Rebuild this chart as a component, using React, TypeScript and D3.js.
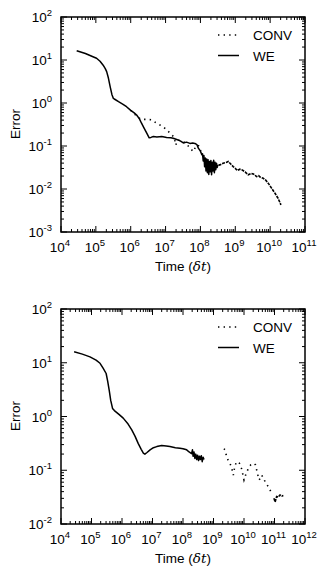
import React from "react";
import * as d3 from "d3";

// Data stored as [log10(time), log10(error)] pairs.
const topWE: [number, number][] = [
  [4.45, 1.216], [4.7, 1.15], [4.9, 1.08], [5.02, 1.04], [5.12, 0.97], [5.21, 0.88],
  [5.27, 0.8], [5.31, 0.73], [5.36, 0.58], [5.41, 0.38], [5.46, 0.2], [5.5, 0.11],
  [5.53, 0.093], [5.65, 0.03], [5.78, -0.03], [5.88, -0.086], [6.0, -0.17], [6.1, -0.23],
  [6.17, -0.28], [6.25, -0.37], [6.31, -0.47], [6.38, -0.58], [6.46, -0.7], [6.53, -0.81],
  [6.58, -0.8], [6.65, -0.78], [6.75, -0.79], [6.89, -0.78], [7.03, -0.8], [7.15, -0.81],
  [7.22, -0.82], [7.32, -0.85], [7.42, -0.88], [7.51, -0.93], [7.6, -0.91], [7.7, -0.94],
  [7.78, -0.93], [7.84, -0.94], [7.9, -0.97], [7.94, -1.05], [8.0, -1.12], [8.04, -1.2],
  [8.06, -1.18], [8.08, -1.35], [8.1, -1.22], [8.12, -1.48], [8.14, -1.28], [8.16, -1.58],
  [8.18, -1.3], [8.2, -1.62], [8.22, -1.32], [8.24, -1.66], [8.26, -1.36], [8.28, -1.6],
  [8.3, -1.34], [8.32, -1.67], [8.34, -1.38], [8.36, -1.58], [8.38, -1.33], [8.4, -1.62],
  [8.42, -1.38], [8.44, -1.55], [8.46, -1.4], [8.48, -1.5], [8.5, -1.44],
];

const topCONV: [number, number][] = [
  [6.0, -0.17], [6.1, -0.25], [6.2, -0.33], [6.3, -0.38], [6.45, -0.38], [6.6, -0.39],
  [6.74, -0.47], [6.93, -0.55], [7.13, -0.7], [7.25, -0.8], [7.29, -0.98], [7.35, -0.86],
  [7.45, -0.88], [7.55, -0.92], [7.65, -1.0], [7.72, -1.07], [7.8, -1.13], [7.88, -0.98],
  [7.95, -1.0], [8.05, -1.2], [8.15, -1.4], [8.3, -1.5], [8.45, -1.45], [8.56, -1.44],
  [8.65, -1.4], [8.75, -1.38], [8.8, -1.36], [8.87, -1.42], [8.94, -1.48], [9.0, -1.52],
  [9.06, -1.57], [9.13, -1.54], [9.2, -1.56], [9.28, -1.6], [9.37, -1.67], [9.45, -1.64],
  [9.52, -1.65], [9.61, -1.71], [9.67, -1.69], [9.71, -1.72], [9.8, -1.75], [9.88, -1.8],
  [9.95, -1.87], [10.04, -1.98], [10.14, -2.1], [10.23, -2.22], [10.31, -2.37],
];

const botWE: [number, number][] = [
  [4.43, 1.206], [4.7, 1.16], [4.95, 1.11], [5.15, 1.05], [5.28, 0.99], [5.38, 0.9],
  [5.48, 0.8], [5.53, 0.66], [5.58, 0.49], [5.63, 0.3], [5.69, 0.15], [5.75, 0.11],
  [5.9, 0.04], [6.04, -0.03], [6.2, -0.14], [6.32, -0.25], [6.43, -0.37], [6.53, -0.5],
  [6.63, -0.61], [6.7, -0.68], [6.75, -0.7], [6.82, -0.67], [6.92, -0.62], [7.03, -0.58],
  [7.14, -0.56], [7.3, -0.54], [7.45, -0.55], [7.57, -0.56], [7.75, -0.58], [7.9, -0.59],
  [8.0, -0.6], [8.12, -0.62], [8.2, -0.66], [8.28, -0.69], [8.31, -0.62], [8.33, -0.74],
  [8.36, -0.66], [8.39, -0.78], [8.42, -0.7], [8.45, -0.8], [8.48, -0.72], [8.51, -0.82],
  [8.54, -0.74], [8.57, -0.8], [8.6, -0.73], [8.63, -0.84], [8.66, -0.76], [8.69, -0.8],
];

const botCONV: [number, number][] = [
  [9.34, -0.6], [9.38, -0.62], [9.43, -0.75], [9.48, -0.81], [9.54, -0.87], [9.6, -0.97],
  [9.65, -1.09], [9.7, -0.92], [9.76, -0.84], [9.85, -0.87], [9.92, -0.97], [10.0, -1.18],
  [10.07, -1.06], [10.14, -0.97], [10.22, -0.9], [10.31, -0.87], [10.38, -0.9], [10.44, -1.06],
  [10.5, -1.18], [10.58, -1.09], [10.64, -1.15], [10.69, -1.21], [10.8, -1.31], [10.91, -1.43],
  [10.98, -1.52], [11.02, -1.59], [11.07, -1.49], [11.12, -1.5], [11.18, -1.46], [11.24, -1.48],
  [11.29, -1.47],
];

const seriesNames = ["CONV", "WE"];
const topXExp = [4, 11];
const topYExp = [-3, 2];
const botXExp = [4, 12];
const botYExp = [-2, 2];

const FONT = "'Liberation Sans', Arial, Helvetica, sans-serif";

type PanelProps = {
  top: number;
  xExp: number[];
  yExp: number[];
  we: [number, number][];
  conv: [number, number][];
  denseFrom: number;
};

function Panel({ top, xExp, yExp, we, conv, denseFrom }: PanelProps) {
  const left = 61, right = 305, height = 215;
  const bottom = top + height;
  const x = d3.scaleLog().domain([10 ** xExp[0], 10 ** xExp[1]]).range([left, right]);
  const y = d3.scaleLog().domain([10 ** yExp[0], 10 ** yExp[1]]).range([bottom, top]);
  const line = d3
    .line<[number, number]>()
    .x((d) => x(10 ** d[0]))
    .y((d) => y(10 ** d[1]));

  const xTicks: { v: number; major: boolean }[] = [];
  for (let e = xExp[0]; e <= xExp[1]; e++) {
    xTicks.push({ v: 10 ** e, major: true });
    if (e < xExp[1]) for (let m = 2; m <= 9; m++) xTicks.push({ v: m * 10 ** e, major: false });
  }
  const yTicks: { v: number; major: boolean }[] = [];
  for (let e = yExp[0]; e <= yExp[1]; e++) {
    yTicks.push({ v: 10 ** e, major: true });
    if (e < yExp[1]) for (let m = 2; m <= 9; m++) yTicks.push({ v: m * 10 ** e, major: false });
  }
  const convSparse = conv.filter((d) => d[0] <= denseFrom);
  const convDense = conv.filter((d) => d[0] >= denseFrom);
  const xE = d3.range(xExp[0], xExp[1] + 1);
  const yE = d3.range(yExp[0], yExp[1] + 1);
  const MJ = 6, MN = 3;
  const FS = 13.5, SS = 9.5;

  return (
    <g>
      {xTicks.map((t, i) => (
        <g key={"xt" + i} stroke="#000" strokeWidth={1}>
          <line x1={x(t.v)} x2={x(t.v)} y1={bottom} y2={bottom - (t.major ? MJ : MN)} />
          <line x1={x(t.v)} x2={x(t.v)} y1={top} y2={top + (t.major ? MJ : MN)} />
        </g>
      ))}
      {yTicks.map((t, i) => (
        <g key={"yt" + i} stroke="#000" strokeWidth={1}>
          <line x1={left} x2={left + (t.major ? MJ : MN)} y1={y(t.v)} y2={y(t.v)} />
          <line x1={right} x2={right - (t.major ? MJ : MN)} y1={y(t.v)} y2={y(t.v)} />
        </g>
      ))}
      <path d={line(we) || ""} fill="none" stroke="#000" strokeWidth={1.5} strokeLinejoin="round" />
      <path
        d={line(convSparse) || ""}
        fill="none"
        stroke="#000"
        strokeWidth={1.6}
        strokeDasharray="1.4,4.2"
        strokeLinecap="butt"
      />
      <path
        d={line(convDense) || ""}
        fill="none"
        stroke="#000"
        strokeWidth={1.6}
        strokeDasharray="3,1"
        strokeLinecap="butt"
      />
      <rect x={left} y={top} width={right - left} height={height} fill="none" stroke="#000" strokeWidth={1.5} />
      {yE.map((e) => (
        <text key={"yl" + e} x={52} y={y(10 ** e) + 5} textAnchor="end" fontFamily={FONT} fontSize={FS}>
          10<tspan fontSize={SS} dy={-6}>{e}</tspan>
        </text>
      ))}
      {xE.map((e) => (
        <text key={"xl" + e} x={x(10 ** e) - 1} y={bottom + 19.5} textAnchor="middle" fontFamily={FONT} fontSize={FS}>
          10<tspan fontSize={SS} dy={-6}>{e}</tspan>
        </text>
      ))}
      <text x={183} y={bottom + 39} textAnchor="middle" fontFamily={FONT} fontSize={FS}>
        Time (<tspan fontFamily="'DejaVu Serif', serif" fontStyle="italic">δt</tspan>)
      </text>
      <text
        transform={`translate(20,${top + 107}) rotate(-90)`}
        textAnchor="middle"
        fontFamily={FONT}
        fontSize={FS}
      >
        Error
      </text>
      <line x1={218} x2={238} y1={top + 18} y2={top + 18} stroke="#000" strokeWidth={1.5} strokeDasharray="1.4,4.2" />
      <text x={253} y={top + 23} fontFamily={FONT} fontSize={FS}>{seriesNames[0]}</text>
      <line x1={218} x2={239} y1={top + 38.5} y2={top + 38.5} stroke="#000" strokeWidth={1.5} />
      <text x={253} y={top + 43.5} fontFamily={FONT} fontSize={FS}>{seriesNames[1]}</text>
    </g>
  );
}

export default function App() {
  return (
    <svg width={329} height={579} style={{ position: "absolute", left: 0, top: 0 }}>
      <rect width={329} height={579} fill="#fff" />
      <Panel top={17} xExp={topXExp} yExp={topYExp} we={topWE} conv={topCONV} denseFrom={8.3} />
      <Panel top={309} xExp={botXExp} yExp={botYExp} we={botWE} conv={botCONV} denseFrom={10.95} />
    </svg>
  );
}
